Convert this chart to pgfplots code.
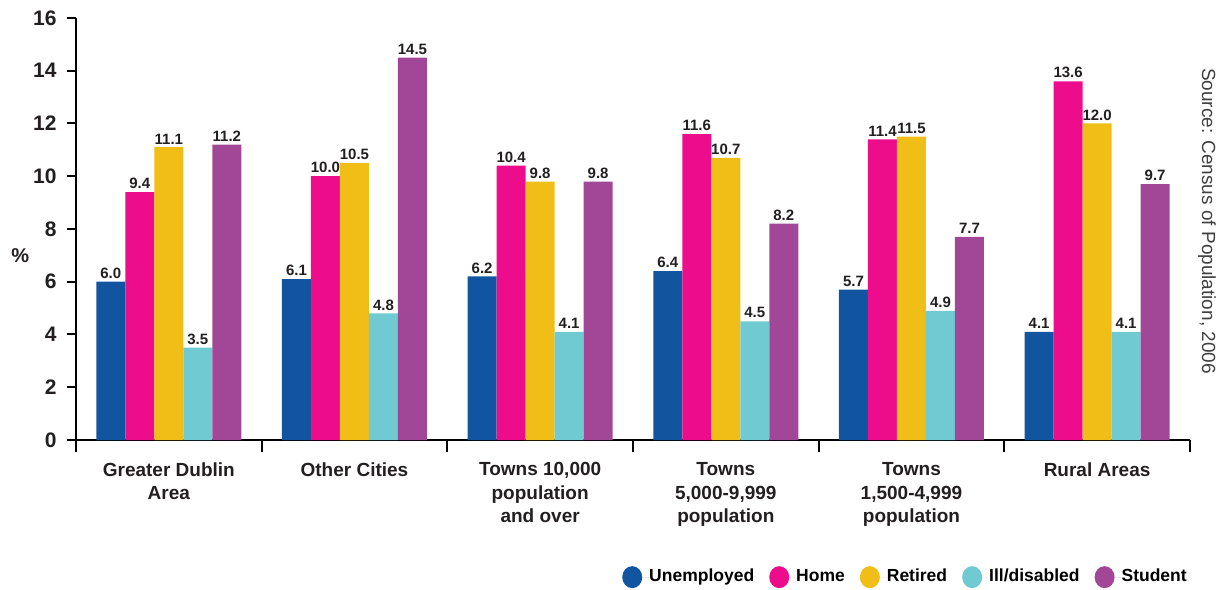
\documentclass[border=0pt]{standalone}
\usepackage{pgfplots}
\pgfplotsset{compat=1.18}
\usepackage{fontspec}
\setmainfont{Liberation Sans}
\definecolor{cUnemp}{HTML}{1155A0}
\definecolor{cHome}{HTML}{EC0C8C}
\definecolor{cRet}{HTML}{F0BE17}
\definecolor{cIll}{HTML}{6FCAD1}
\definecolor{cStu}{HTML}{A24697}
\definecolor{txt}{HTML}{231F20}
\begin{document}
\begin{tikzpicture}
\path[use as bounding box] (0,0) rectangle (1222pt,589pt);
\begin{axis}[
  at={(76pt,149pt)}, anchor=south west,
  scale only axis, width=1114pt, height=422pt,
  xmin=-0.5, xmax=5.5, ymin=0, ymax=16,
  axis x line=bottom, axis y line=left,
  axis line style={line width=2.2pt, -, color=black},
  ybar=0pt, bar width=29pt,
  major tick length=12pt, tick align=outside,
  tick style={line width=2pt, black},
  xtick={-0.5,0.5,1.5,2.5,3.5,4.5,5.5},
  xticklabels={},
  extra x ticks={0,1,2,3,4,5},
  extra x tick labels={{Greater Dublin\\Area},{Other Cities},{Towns 10,000\\population\\and over},{Towns\\5,000-9,999\\population},{Towns\\1,500-4,999\\population},{Rural Areas}},
  extra x tick style={major tick length=0pt, tick style={draw=none}, grid=none,
    xticklabel style={align=center, font=\bfseries\fontsize{19}{23.5}\selectfont, color=txt, yshift=-19pt}},
  ytick=\empty,
  extra y ticks={0,2,4,6,8,10,12,14,16},
  extra y tick style={major tick length=9pt, grid=none,
    yticklabel style={font=\bfseries\fontsize{21}{21}\selectfont, color=txt, xshift=-7pt}},
  /pgf/number format/assume math mode=true,
  ylabel={\%},
  ylabel style={rotate=-90, at={(axis description cs:-0.050,0.438)}, anchor=center, font=\bfseries\fontsize{20}{20}\selectfont, color=txt},
  nodes near coords,
  nodes near coords style={font=\bfseries\fontsize{15}{15}\selectfont, color=txt, /pgf/number format/fixed, /pgf/number format/fixed zerofill, /pgf/number format/precision=1, /pgf/number format/assume math mode=true, inner sep=3pt},
  legend columns=5,
  legend style={at={(axis description cs:1.0,-0.325)}, anchor=east, draw=none, fill=none,
    font=\bfseries\fontsize{17.5}{17.5}\selectfont,
    nodes={text height=13pt, text depth=4pt, inner sep=0pt},
    /tikz/every even column/.append style={column sep=15pt}},
  legend image code/.code={\path[fill, draw=none] (10pt,0pt) ellipse [x radius=10pt, y radius=11pt]; \path (0,0) -- (27pt,0pt);},
]
\addplot[fill=cUnemp, draw=none] coordinates {(0,6.0) (1,6.1) (2,6.2) (3,6.4) (4,5.7) (5,4.1)};
\addplot[fill=cHome, draw=none] coordinates {(0,9.4) (1,10.0) (2,10.4) (3,11.6) (4,11.4) (5,13.6)};
\addplot[fill=cRet, draw=none] coordinates {(0,11.1) (1,10.5) (2,9.8) (3,10.7) (4,11.5) (5,12.0)};
\addplot[fill=cIll, draw=none] coordinates {(0,3.5) (1,4.8) (2,4.1) (3,4.5) (4,4.9) (5,4.1)};
\addplot[fill=cStu, draw=none] coordinates {(0,11.2) (1,14.5) (2,9.8) (3,8.2) (4,7.7) (5,9.7)};
\legend{Unemployed, Home, Retired, Ill/disabled, Student}
\end{axis}
\node[rotate=-90, font=\fontsize{19}{19}\selectfont, color=black!75] at (1207pt,368pt) {Source: Census of Population, 2006};
\end{tikzpicture}
\end{document}
